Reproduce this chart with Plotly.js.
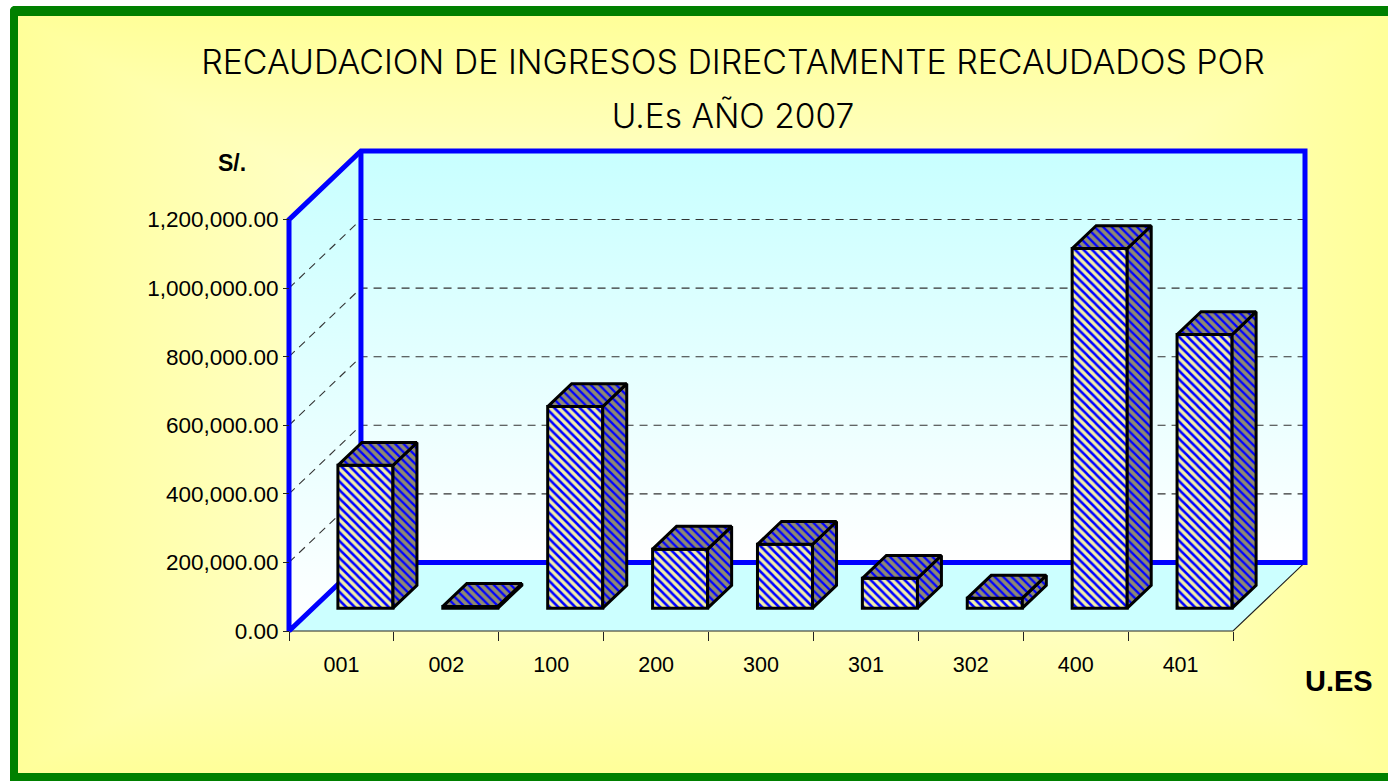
<!DOCTYPE html>
<html>
<head>
<meta charset="utf-8">
<script src="https://cdn.plot.ly/plotly-3.0.1.min.js"></script>
<style>
html,body{margin:0;padding:0;background:#fff;width:1388px;height:781px;overflow:hidden}
#frame{position:absolute;left:10px;top:6px;width:1370px;height:757px;border-left:8px solid #008000;border-top:10px solid #008000;border-bottom:8px solid #008000;border-right:0;border-top-left-radius:5px;
background:linear-gradient(to right,#ffff99,#ffffff 50%,#ffff99),linear-gradient(to bottom,#ffff99,#ffffff 50%,#ffff99);background-blend-mode:darken}
#chart{position:absolute;left:0;top:0;width:1388px;height:781px}
</style>
</head>
<body>
<div id="frame"></div>
<div id="chart"></div>
<script>
const categories = ['001','002','100','200','300','301','302','400','401'];
const recaudacion = [416500, 5000, 588000, 172000, 186000, 87000, 29000, 1048600, 798000];
const yTicks = [0, 200000, 400000, 600000, 800000, 1000000, 1200000];
const titleLines = ['RECAUDACION DE INGRESOS DIRECTAMENTE RECAUDADOS POR', 'U.Es AÑO 2007'];

const n = categories.length;
const depthX = 0.686, depthY = 200000;      // oblique projection of the floor depth
const yMax = 1200000 + depthY, xMax = n + depthX;
const barW = 0.525;
const FONT = 'Liberation Sans, Arial, sans-serif';

// pixel box of the chart frame, padded so the thick frame lines are not clipped
const L = 289, R = 1305, T = 151, B = 631, PAD = 8;
const pxX = (R-L)/xMax, pxY = (B-T)/yMax;
const xRange = [-PAD/pxX, xMax+PAD/pxX], yRange = [-PAD/pxY, yMax+PAD/pxY];
const plotW = R-L+2*PAD, plotH = B-T+2*PAD;

const skip = {hoverinfo:'skip', showlegend:false, mode:'lines'};
const poly = (pts, extra) => Object.assign({x:pts.map(p=>p[0]), y:pts.map(p=>p[1]), type:'scatter'}, skip, extra);

const wallGrad = {type:'vertical', colorscale:[[0,'#ffffff'],[1,'#c8ffff']]};
const traces = [];
// walls and floor
traces.push(poly([[0,0],[depthX,depthY],[depthX,yMax],[0,1200000],[0,0]], {fill:'toself', fillgradient:wallGrad, line:{width:0}}));
traces.push(poly([[depthX,depthY],[xMax,depthY],[xMax,yMax],[depthX,yMax],[depthX,depthY]], {fill:'toself', fillgradient:wallGrad, line:{width:0}}));
traces.push(poly([[0,0],[n,0],[xMax,depthY],[depthX,depthY],[0,0]], {fill:'toself', fillcolor:'#ccffff', line:{width:0}}));
// gridlines
yTicks.slice(1).forEach(v=>{
  traces.push(poly([[0,v],[depthX,v+depthY],[xMax,v+depthY]], {line:{color:'#333',width:1.1,dash:'8px,6px'}}));
});
// floor edge and blue frame
traces.push(poly([[0,0],[n,0],[xMax,depthY]], {line:{color:'#222',width:1.2}}));
traces.push(poly([[0,0],[0,1200000],[depthX,yMax],[xMax,yMax],[xMax,depthY],[depthX,depthY],[0,0]], {line:{color:'#0000ff',width:5}}));
traces.push(poly([[depthX,depthY],[depthX,yMax]], {line:{color:'#0000ff',width:5}}));

// bars: the front faces are real bars, top and side faces follow from the same values
const offX = depthX/3, offY = depthY/3;
const centers = categories.map((c,i)=>i+0.5+offX);
traces.push({type:'bar', x:centers, y:recaudacion, base:categories.map(()=>offY), width:barW,
  xaxis:'x2', yaxis:'y2', showlegend:false, hoverinfo:'skip',
  marker:{line:{color:'#000',width:3}, pattern:{shape:'\\', fgcolor:'#0000ff', bgcolor:'#f2eeaa', fgopacity:1, size:6, solidity:0.42}}});
const dark = {shape:'\\', fgcolor:'#0000ff', bgcolor:'#8e8a70', fgopacity:1, size:6, solidity:0.38};
recaudacion.forEach((v,i)=>{
  const x0=centers[i]-barW/2, x1=centers[i]+barW/2, y0=offY, y1=offY+v, dx=depthX/3, dy=depthY/3;
  const face = {xaxis:'x2', yaxis:'y2', fill:'toself', fillpattern:dark, line:{color:'#000',width:3}};
  traces.push(poly([[x1,y0],[x1+dx,y0+dy],[x1+dx,y1+dy],[x1,y1],[x1,y0]], face));
  traces.push(poly([[x0,y1],[x1,y1],[x1+dx,y1+dy],[x0+dx,y1+dy],[x0,y1]], face));
});

const layout = {
  width:1388, height:781, autosize:false,
  paper_bgcolor:'rgba(0,0,0,0)', plot_bgcolor:'rgba(0,0,0,0)',
  margin:{l:L-PAD, r:1388-R-PAD, t:T-PAD, b:781-B-PAD, pad:0},
  showlegend:false, barmode:'overlay',
  font:{family:FONT, color:'#000'},
  title:{text:'<span style="font-size:33.9px">'+titleLines[0]+'</span><br><span style="font-size:33.5px">'+titleLines[1]+'</span>',
    font:{family:'Inter, Liberation Sans, sans-serif', weight:300, size:41.5, color:'#000'}, x:733/1388, xanchor:'center', xref:'container', y:1-74/781, yanchor:'top', yref:'container'},
  xaxis:{range:xRange, anchor:'free', position:PAD/plotH, tickmode:'array', tickvals:categories.map((c,i)=>i+0.5), ticktext:categories,
    ticks:'', ticklabelstandoff:18, tickfont:{family:FONT,size:21.5,color:'#000'}, showgrid:false, zeroline:false, showline:false,
    minor:{tickmode:'array', tickvals:categories.map((c,i)=>i).concat([n]), ticks:'outside', ticklen:9, tickwidth:1, tickcolor:'#222', showgrid:false}},
  yaxis:{range:yRange, anchor:'free', position:PAD/plotW, tickmode:'array', tickvals:yTicks, tickformat:',.2f',
    ticks:'outside', ticklen:6, tickwidth:1, tickcolor:'#222', tickfont:{family:FONT,size:22.5,color:'#000'}, showgrid:false, zeroline:false, showline:false},
  xaxis2:{overlaying:'x', range:xRange, visible:false, anchor:'y2'},
  yaxis2:{overlaying:'y', range:yRange, visible:false, anchor:'x2'},
  annotations:[
    {text:'<b>S/.</b>', xref:'paper', yref:'paper', xanchor:'center', yanchor:'middle', x:(232-L+PAD)/plotW, y:(B+PAD-163)/plotH, showarrow:false, font:{family:FONT,size:23,color:'#000'}},
    {text:'<b>U.ES</b>', xref:'paper', yref:'paper', xanchor:'center', yanchor:'middle', x:(1339-L+PAD)/plotW, y:(B+PAD-681)/plotH, showarrow:false, font:{family:FONT,size:29,color:'#000'}}
  ]
};
Plotly.newPlot('chart', traces, layout, {displayModeBar:false, staticPlot:true});
</script>
</body>
</html>
